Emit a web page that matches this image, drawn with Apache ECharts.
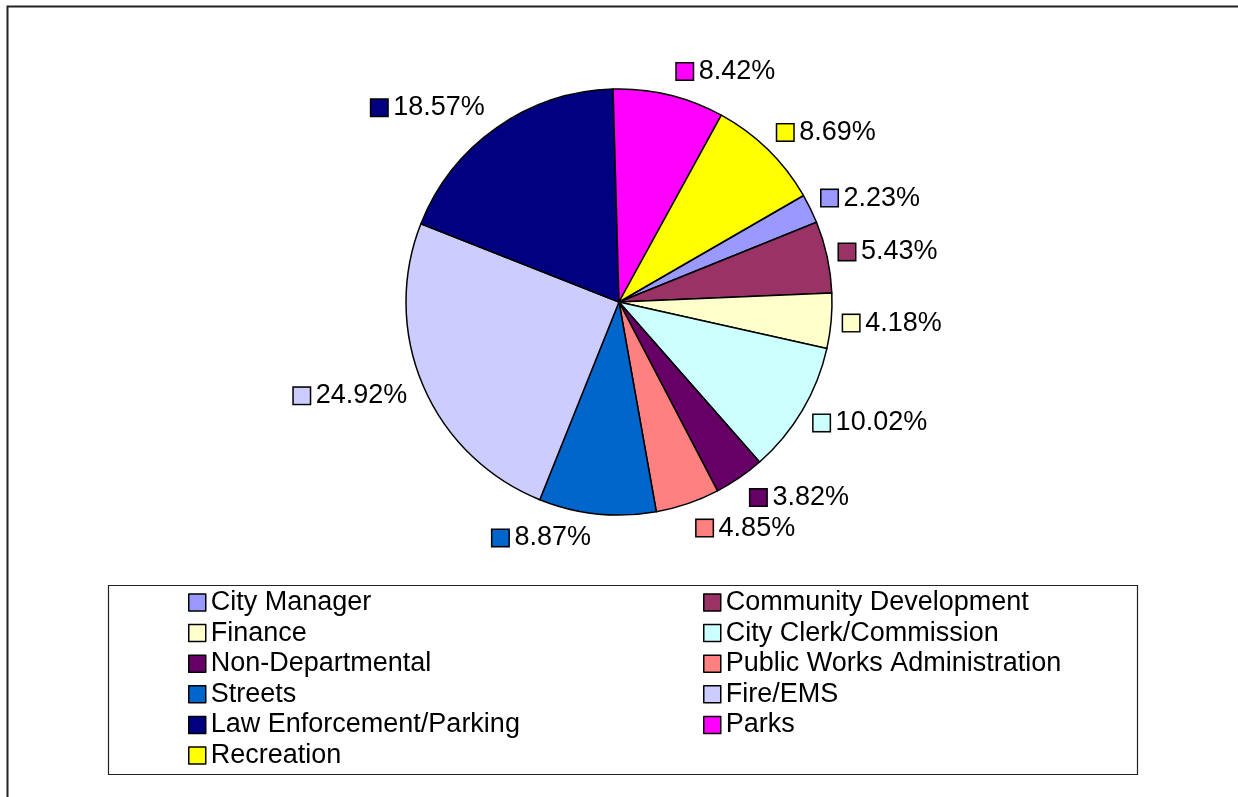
<!DOCTYPE html>
<html>
<head>
<meta charset="utf-8">
<script src="https://cdn.jsdelivr.net/npm/echarts@6/dist/echarts.min.js"></script>
<style>
html,body{margin:0;padding:0;background:#fff;}
#chart{width:1238px;height:797px;}
</style>
</head>
<body>
<div id="chart"></div>
<script>
const categories = ["City Manager","Community Development","Finance","City Clerk/Commission","Non-Departmental","Public Works Administration","Streets","Fire/EMS","Law Enforcement/Parking","Parks","Recreation"];
const values = [2.23, 5.43, 4.18, 10.02, 3.82, 4.85, 8.87, 24.92, 18.57, 8.42, 8.69];
const colors = ["#9999FF","#993366","#FFFFCC","#CCFFFF","#660066","#FF8080","#0066CC","#CCCCFF","#000080","#FF00FF","#FFFF00"];
const legendLeft = ["City Manager","Finance","Non-Departmental","Streets","Law Enforcement/Parking","Recreation"];
const legendRight = ["Community Development","City Clerk/Commission","Public Works Administration","Fire/EMS","Parks"];

const FONT = '"Liberation Sans", Arial, sans-serif';
const START_ANGLE = 30;
const chart = echarts.init(document.getElementById('chart'), null, {renderer:'canvas'});

const total = values.reduce((a, b) => a + b, 0);
const midAngles = [];
let cum = 0;
values.forEach(v => {
  // angle clockwise from 12 o'clock, in radians
  const startCW = (90 - START_ANGLE) * Math.PI / 180;
  midAngles.push(startCW + (cum + v / 2) / total * 2 * Math.PI);
  cum += v;
});

const data = categories.map((name, i) => ({
  name: name,
  value: values[i],
  itemStyle: { color: colors[i] },
  label: { rich: { s: { backgroundColor: colors[i] } } }
}));

const legendCommon = {
  orient: 'vertical',
  icon: 'rect',
  itemWidth: 17,
  itemHeight: 17,
  itemGap: 3.6,
  padding: 0,
  selectedMode: false,
  itemStyle: { borderColor: '#000', borderWidth: 1.5 },
  textStyle: { fontFamily: FONT, fontSize: 27, lineHeight: 27, color: '#000' }
};

chart.setOption({
  animation: false,
  color: colors,
  legend: [
    Object.assign({}, legendCommon, { data: legendLeft, left: 188, top: 589 }),
    Object.assign({}, legendCommon, { data: legendRight, left: 703, top: 589 })
  ],
  graphic: [
    { type: 'polyline', shape: { points: [[7.5, 800], [7.5, 6.5], [1240, 6.5]] }, style: { fill: null, stroke: '#222', lineWidth: 2 }, silent: true },
    { type: 'rect', shape: { x: 108.5, y: 585.5, width: 1029, height: 189 }, style: { fill: null, stroke: '#222', lineWidth: 1.2 }, silent: true }
  ],
  series: [{
    type: 'pie',
    center: [619, 302],
    radius: 213,
    startAngle: START_ANGLE,
    clockwise: true,
    data: data,
    itemStyle: { borderColor: '#000', borderWidth: 1.5 },
    labelLine: { show: false, length: 12, length2: 0 },
    labelLayout: function (p) {
      const a = midAngles[p.dataIndex];
      return { dy: -0.45 * p.labelRect.height * Math.cos(a) };
    },
    label: {
      show: true,
      position: 'outside',
      fontFamily: FONT,
      fontSize: 27,
      color: '#000',
      formatter: p => '{s|}{t|' + p.value.toFixed(2) + '%}',
      rich: {
        s: { width: 16, height: 16, borderColor: '#000', borderWidth: 1.5 },
        t: { fontFamily: FONT, fontSize: 27, color: '#000', padding: [0, 0, 0, 6] }
      }
    },
    emphasis: { disabled: true }
  }]
});
</script>
</body>
</html>
